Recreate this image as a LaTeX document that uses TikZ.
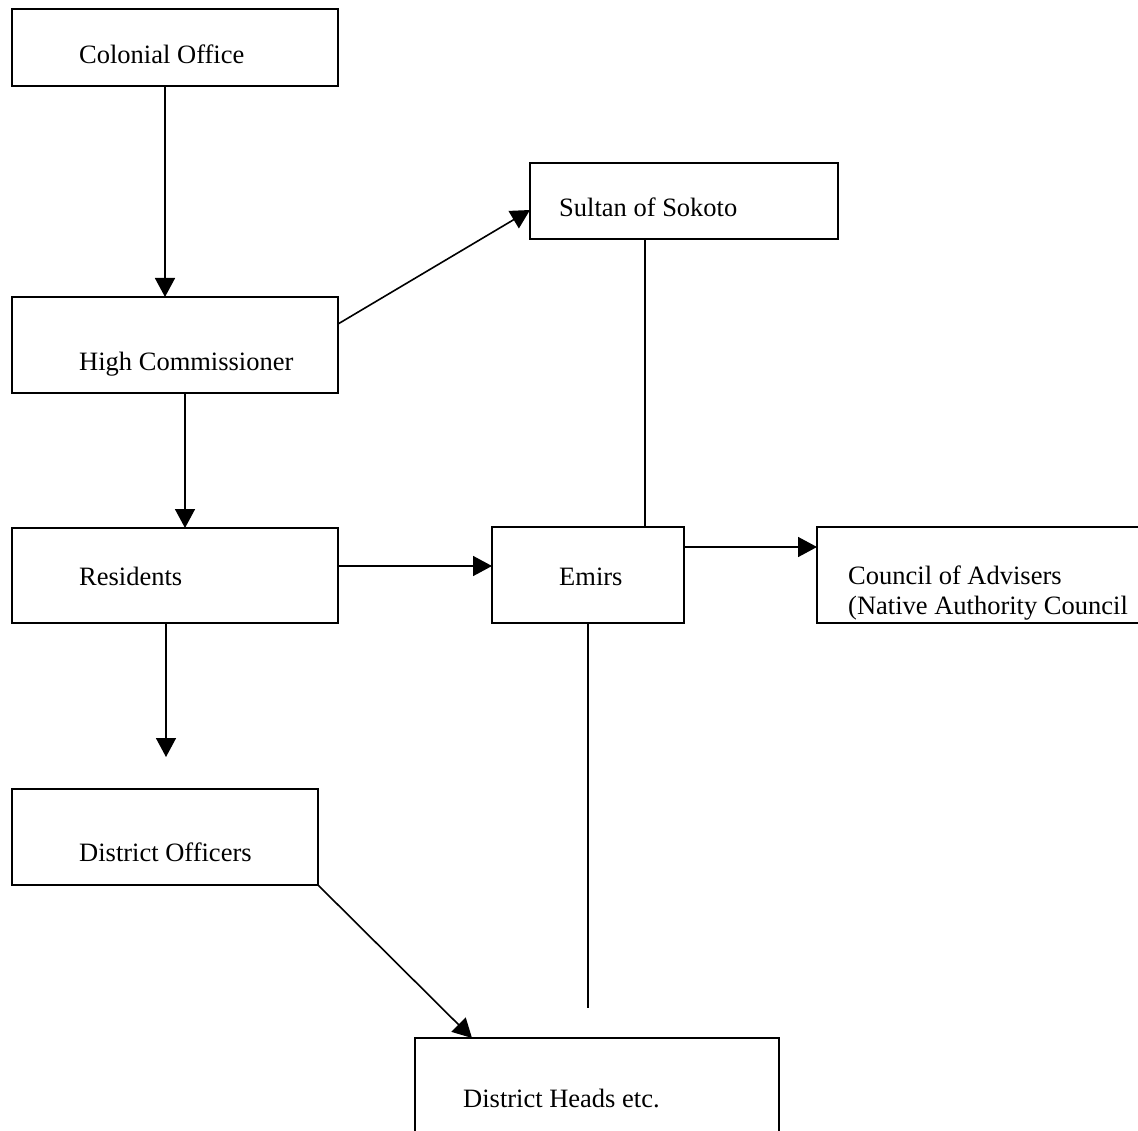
\documentclass[tikz,border=0pt]{standalone}
\usepackage{fontspec}
\setmainfont{Liberation Serif}
\usetikzlibrary{arrows.meta}
\begin{document}
\begin{tikzpicture}[x=1pt,y=-1pt,
  box/.style={draw, line width=1.6pt, rectangle, inner sep=0pt, outer sep=0pt, anchor=north west},
  lbl/.style={inner sep=0pt, anchor=base west, font=\fontsize{26.5}{30.5}\selectfont},
  conn/.style={line width=1.6pt},
  arr/.style={conn, -{Triangle[length=19pt,width=20pt]}}]
\useasboundingbox (0,0) rectangle (1138,1131);
\clip (0,0) rectangle (1138,1131);
\fill[white] (0,0) rectangle (1138,1131);

% boxes
\node[box, minimum width=326pt, minimum height=77pt] (co)  at (12,9)    {};
\node[box, minimum width=308pt, minimum height=76pt] (sos) at (530,163) {};
\node[box, minimum width=326pt, minimum height=96pt] (hc)  at (12,297)  {};
\node[box, minimum width=326pt, minimum height=95pt] (res) at (12,528)  {};
\node[box, minimum width=192pt, minimum height=96pt] (emi) at (492,527) {};
\node[box, minimum width=360pt, minimum height=96pt] (cou) at (817,527) {};
\node[box, minimum width=306pt, minimum height=96pt] (do)  at (12,789)  {};
\node[box, minimum width=364pt, minimum height=120pt] (dh) at (415,1038) {};

% labels
\node[lbl] (co-t)   at (79,64)   {Colonial Office};
\node[lbl] (sos-t)  at (559,217) {Sultan of Sokoto};
\node[lbl] (hc-t)   at (79,371)  {High Commissioner};
\node[lbl] (res-t)  at (79,585)  {Residents};
\node[lbl] (emi-t)  at (559,585) {Emirs};
\node[lbl] (cou-t1) at (848,584) {Council of Advisers};
\node[lbl] (cou-t2) at (848,614) {(Native Authority Council};
\node[lbl] (do-t)   at (79,861)  {District Officers};
\node[lbl] (dh-t)   at (463,1107) {District Heads etc.};

% free ends
\coordinate (resfoot) at (166,757);
\coordinate (emifoot) at (588,1008);

% connectors
\draw[arr] ([xshift=-10pt]co.south) -- ([xshift=-10pt]hc.north);
\draw[arr] ([yshift=21pt]hc.east) -- ([yshift=-9pt]sos.west);
\draw[arr] ([xshift=10pt]hc.south) -- ([xshift=10pt]res.north);
\draw[conn] ([xshift=-39pt]sos.south) -- ([xshift=-39pt]sos.south |- emi.north);
\draw[arr] ([yshift=9.5pt]res.east) -- ([yshift=9.5pt]res.east -| emi.west);
\draw[arr] ([yshift=28pt]emi.east) -- ([yshift=28pt]emi.east -| cou.west);
\draw[arr] ([xshift=-9pt]res.south) -- (resfoot);
\draw[arr] (do.south east) -- ([xshift=57pt]dh.north west);
\draw[conn] (emi.south) -- (emifoot);
\end{tikzpicture}
\end{document}
